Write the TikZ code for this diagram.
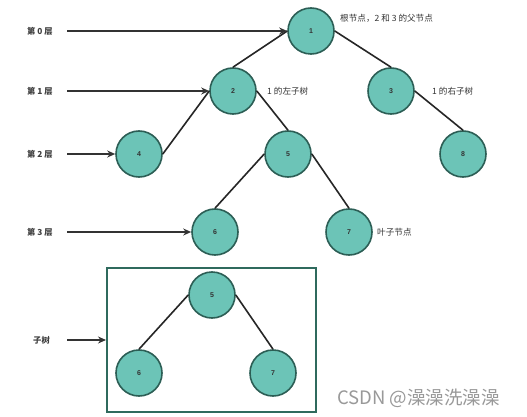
\documentclass[tikz,border=0pt]{standalone}
\usepackage{fontspec}
\setmainfont{Liberation Sans}
\newfontfamily\cjk{Noto Sans CJK SC}
\usetikzlibrary{arrows.meta}
\definecolor{nodefill}{HTML}{6CC4B7}
\definecolor{nodeline}{HTML}{2C5E55}
\definecolor{boxline}{HTML}{2F6A5D}
\definecolor{arrowc}{HTML}{333333}
\tikzset{
  tn/.style={circle,draw=nodeline,line width=1.6pt,fill=nodefill,minimum size=46pt,inner sep=0pt,font=\fontsize{7}{8}\selectfont\bfseries,text=black!80},
  edge/.style={draw=black!85,line width=1.6pt},
  lvl/.style={font=\cjk\fontsize{8.3}{10}\selectfont\bfseries,text=black!75,anchor=west,inner sep=0pt},
  note/.style={font=\cjk\fontsize{8.6}{10}\selectfont,text=black!80,anchor=west,inner sep=0pt},
  arr/.style={draw=arrowc,line width=1.8pt,-{Stealth[length=8pt,width=7pt]}}
}
\begin{document}
\begin{tikzpicture}[x=1pt,y=-1pt]
\useasboundingbox[fill=white] (0,0) rectangle (527,417);
% main tree
\node[tn] (n1) at (311,31) {1};
\node[tn] (n2) at (233,91) {2};
\node[tn] (n3) at (391,91) {3};
\node[tn] (n4) at (139,154) {4};
\node[tn] (n5) at (288,154) {5};
\node[tn] (n8) at (463,154) {8};
\node[tn] (n6) at (215,232) {6};
\node[tn] (n7) at (349,232) {7};
\draw[edge] (n1.west) -- (n2.north);
\draw[edge] (n1.east) -- (n3.north);
\draw[edge] (n2.west) -- (n4.east);
\draw[edge] (n2.east) -- (n5.north);
\draw[edge] (n3.east) -- (n8.north);
\draw[edge] (n5.west) -- (n6.north);
\draw[edge] (n5.east) -- (n7.north);
% annotations
\node[note] (a1) at (340,18) {根节点，2 和 3 的父节点};
\node[note] (a2) at (267,91) {1 的左子树};
\node[note] (a3) at (432,91) {1 的右子树};
\node[note] (a4) at (377,232) {叶子节点};
% level labels
\node[lvl] (l0) at (27,31) {第 0 层};
\node[lvl] (l1) at (27,91) {第 1 层};
\node[lvl] (l2) at (27,154) {第 2 层};
\node[lvl] (l3) at (27,232) {第 3 层};
\node[lvl] (ls) at (33,340) {子树};
\coordinate (s0) at (67,31);
\coordinate (s1) at (67,91);
\coordinate (s2) at (67,154);
\coordinate (s3) at (67,232);
\coordinate (ss) at (67,340);
\draw[arr] (s0) -- (n1.west);
\draw[arr] (s1) -- (n2.west);
\draw[arr] (s2) -- (n4.west);
\draw[arr] (s3) -- (n6.west);
% subtree box
\node[draw=boxline,line width=2pt,minimum width=209pt,minimum height=144pt,inner sep=0pt] (box) at (211.5,340) {};
\draw[arr] (ss) -- (box.west);
\node[tn] (m5) at (212,295) {5};
\node[tn] (m6) at (139,373) {6};
\node[tn] (m7) at (273,373) {7};
\draw[edge] (m5.west) -- (m6.north);
\draw[edge] (m5.east) -- (m7.north);
% watermark
\node[font=\cjk\fontsize{18.5}{21}\selectfont,text=black!40,anchor=west,inner sep=0pt] (wm) at (337,398) {CSDN @澡澡洗澡澡};
\end{tikzpicture}
\end{document}
